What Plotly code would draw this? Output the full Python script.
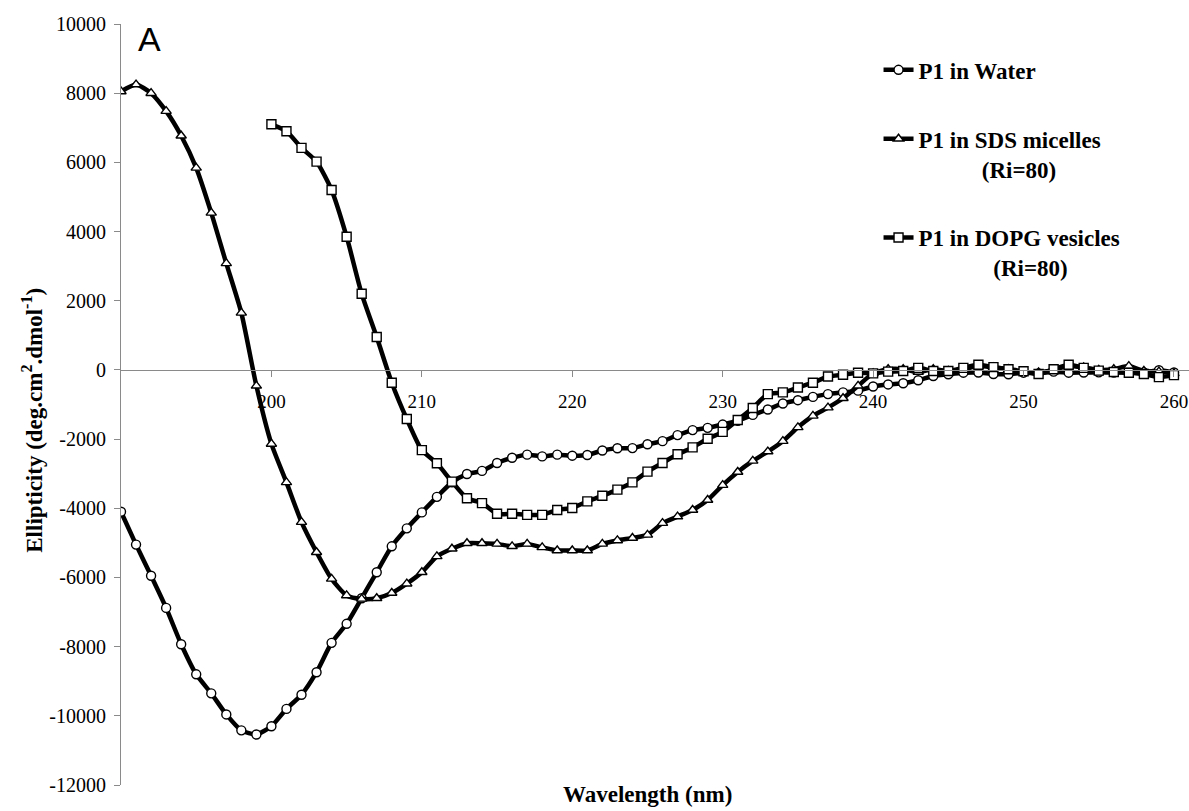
import plotly.graph_objects as go

# ---- data ----
wl_full = list(range(190, 261))
wl_dopg = list(range(200, 261))

water = [-4100, -5050, -5950, -6880, -7930, -8800, -9350, -9960, -10420, -10540,
         -10300, -9800, -9390, -8740, -7890, -7340, -6600, -5850, -5100, -4580,
         -4120, -3670, -3250, -3010, -2920, -2690, -2540, -2450, -2500, -2450,
         -2480, -2460, -2330, -2265, -2260, -2150, -2060, -1885, -1740, -1675,
         -1580, -1470, -1300, -1145, -970, -875, -780, -700, -650, -600,
         -480, -420, -385, -300, -175, -125, -80, -75, -120, -125,
         -80, -100, -50, -80, -75, -70, -75, -80, -75, -10,
         -75]

sds = [8050, 8250, 8000, 7480, 6770, 5840, 4540, 3080, 1650, -460,
       -2140, -3250, -4400, -5270, -6040, -6520, -6620, -6600, -6450, -6180,
       -5850, -5390, -5170, -5010, -5010, -5030, -5100, -5030, -5130, -5220,
       -5220, -5220, -5030, -4930, -4860, -4770, -4430, -4240, -4050, -3760,
       -3330, -2950, -2630, -2360, -2060, -1660, -1330, -1090, -820, -460,
       -100, 20, 20, -60, 20, -30, 20, 110, 70, 20,
       -70, -70, 0, 110, 70, 0, 20, 110, -30, -50,
       -100]

dopg = [7100, 6900, 6420, 6020, 5200, 3850, 2200, 950, -370, -1420,
        -2320, -2700, -3230, -3710, -3850, -4160, -4160, -4190, -4190, -4050,
        -3990, -3800, -3640, -3460, -3250, -2940, -2690, -2440, -2240, -1990,
        -1790, -1450, -1100, -700, -650, -510, -370, -190, -140, -80,
        -100, -50, -30, 60, -30, -30, 60, 150, 80, 20,
        -40, -120, 20, 150, 60, -20, -60, -80, -120, -210,
        -150]

names = ["P1 in Water",
         "P1 in SDS micelles<br>" + "\u00a0" * 11 + "(Ri=80)",
         "P1 in DOPG vesicles<br>" + "\u00a0" * 13 + "(Ri=80)"]

x_ticks = [200, 210, 220, 230, 240, 250, 260]
y_ticks = [10000, 8000, 6000, 4000, 2000, 0, -2000, -4000, -6000, -8000, -10000, -12000]
y_ticktext = [str(v) for v in y_ticks]

SERIF = "Liberation Serif"
SANS = "Liberation Sans"

fig = go.Figure()

series = [
    (wl_full, water, "circle", names[0], "g1"),
    (wl_full, sds, "triangle-up", names[1], "g2"),
    (wl_dopg, dopg, "square", names[2], "g3"),
]
for xs, ys, sym, nm, grp in series:
    fig.add_trace(go.Scatter(
        x=xs, y=ys, name=nm, mode="lines+markers", legendgroup=grp,
        line=dict(color="black", width=4.5, shape="spline", smoothing=0.6),
        marker=dict(symbol=sym, size=9, color="white",
                    line=dict(color="black", width=1.4)),
    ))

fig.update_layout(
    width=1189, height=811,
    paper_bgcolor="white", plot_bgcolor="white",
    margin=dict(l=121, r=0, t=24, b=26, autoexpand=False),
    font=dict(family=SERIF, color="black"),
    showlegend=True,
    legend=dict(
        x=0.7093, y=0.968, xanchor="left", yanchor="top",
        font=dict(family=SERIF, size=23, color="black", weight="bold"),
        valign="top", traceorder="grouped", tracegroupgap=36, itemwidth=30,
        bgcolor="rgba(0,0,0,0)",
    ),
    xaxis=dict(
        range=[190, 261.0], anchor="free", position=12000 / 22000,
        tickvals=x_ticks, ticktext=[str(v) for v in x_ticks],
        showline=True, linecolor="#8a8a8a", linewidth=1,
        ticks="outside", ticklen=6, tickcolor="#8a8a8a", tickwidth=1,
        showgrid=False, zeroline=False, automargin=False,
        tickfont=dict(family=SERIF, size=19, color="black"),
        ticklabelstandoff=8, ticklabeloverflow="allow",
    ),
    yaxis=dict(
        range=[-12000, 10000],
        tickvals=y_ticks, ticktext=y_ticktext,
        showline=True, linecolor="#8a8a8a", linewidth=1,
        ticks="outside", ticklen=6, tickcolor="#8a8a8a", tickwidth=1,
        showgrid=False, zeroline=False, automargin=False,
        tickfont=dict(family=SERIF, size=20, color="black"),
        ticklabelstandoff=4,
    ),
    annotations=[
        dict(text="<b>Ellipticity (deg.cm<sup>2</sup>.dmol<sup>-1</sup>)</b>",
             xref="paper", yref="paper", x=-0.0824, y=0.48, xanchor="center",
             yanchor="middle", textangle=-90, showarrow=False,
             font=dict(family=SERIF, size=23, color="black")),
        dict(text="<b>Wavelength (nm)</b>",
             xref="paper", yref="paper", x=0.4934, y=-0.013, xanchor="center",
             yanchor="middle", showarrow=False,
             font=dict(family=SERIF, size=23, color="black")),
        dict(text="A", xref="paper", yref="paper", x=0.027, y=0.98,
             xanchor="center", yanchor="middle", showarrow=False,
             font=dict(family=SANS, size=34, color="black")),
    ],
)

# remove the default page margin so the figure fills the window exactly
fig.write_html("out.html",
               config={"displayModeBar": False},
               post_script="document.body.style.margin='0';"
                           "document.body.style.overflow='hidden';")
